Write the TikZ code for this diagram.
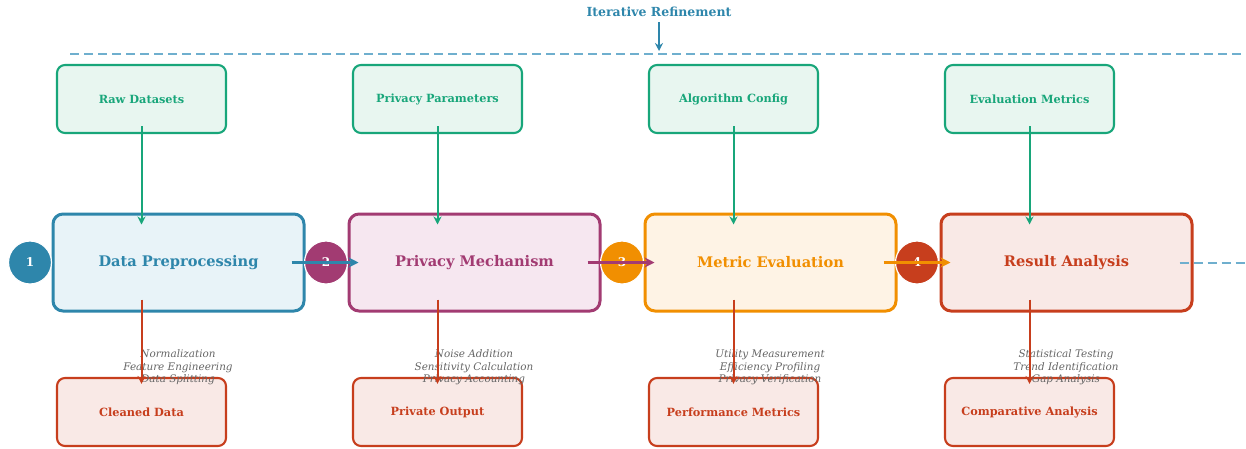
\documentclass[tikz,border=0pt]{standalone}
\usepackage{fontspec}
\setmainfont{DejaVu Serif}
\usetikzlibrary{arrows.meta}
\definecolor{cblue}{HTML}{2E86AB}
\definecolor{fblue}{HTML}{E8F3F8}
\definecolor{cpurp}{HTML}{A23B72}
\definecolor{fpurp}{HTML}{F6E7F0}
\definecolor{corng}{HTML}{F18F01}
\definecolor{forng}{HTML}{FEF3E5}
\definecolor{cred}{HTML}{C73E1D}
\definecolor{fred}{HTML}{F9E9E6}
\definecolor{cgrn}{HTML}{18A67A}
\definecolor{fgrn}{HTML}{E8F6F0}
\definecolor{cdash}{HTML}{6FAFCE}
\definecolor{cgray}{HTML}{666666}
\tikzset{
  mainbox/.style={draw, line width=3pt, rounded corners=10pt, minimum width=251pt, minimum height=97pt, font=\fontsize{14.6}{16}\selectfont\bfseries, inner sep=0pt},
  inbox/.style={draw=cgrn, fill=fgrn, text=cgrn, line width=2.1pt, rounded corners=8pt, minimum width=169pt, minimum height=68pt, font=\fontsize{11.3}{13}\selectfont\bfseries, inner sep=0pt},
  outbox/.style={draw=cred, fill=fred, text=cred, line width=2.1pt, rounded corners=8pt, minimum width=169pt, minimum height=68pt, font=\fontsize{11.3}{13}\selectfont\bfseries, inner sep=0pt},
  numc/.style={circle, draw=white, line width=1.2pt, minimum size=43pt, inner sep=0pt, text=white, font=\fontsize{12}{14}\selectfont\bfseries},
  note/.style={align=center, text=cgray, font=\fontsize{10.4}{12.5}\selectfont\itshape},
  thinarr/.style={line width=2pt, -{Stealth[length=8pt,width=8pt]}},
  fatarr/.style={line width=2.8pt, -{Stealth[length=10pt,width=10pt]}},
  dashln/.style={cdash, line width=2pt, dash pattern=on 9pt off 5pt}
}
\begin{document}
\begin{tikzpicture}[x=1pt, y=-1pt]
\useasboundingbox (0,0) rectangle (1246,448);
% title
\node[text=cblue, font=\fontsize{12.5}{14}\selectfont\bfseries] (title) at (659,12) {Iterative Refinement};
\coordinate (dl) at (70,54);
\coordinate (dr) at (1246,54);
\coordinate (dt) at (659,51);
\draw[dashln] (dl) -- (dr);
\draw[cblue, line width=2pt, -{Stealth[length=8pt,width=8pt]}] (title.south) ++(0,2) -- (dt);
% input boxes
\node[inbox] (in1) at (141.5,99) {Raw Datasets};
\node[inbox] (in2) at (437.5,99) {Privacy Parameters};
\node[inbox] (in3) at (733.5,99) {Algorithm Config};
\node[inbox] (in4) at (1029.5,99) {Evaluation Metrics};
% main boxes
\node[mainbox, draw=cblue, fill=fblue, text=cblue] (m1) at (178.5,262.5) {Data Preprocessing};
\node[mainbox, draw=cpurp, fill=fpurp, text=cpurp] (m2) at (474.5,262.5) {Privacy Mechanism};
\node[mainbox, draw=corng, fill=forng, text=corng] (m3) at (770.5,262.5) {Metric Evaluation};
\node[mainbox, draw=cred, fill=fred, text=cred] (m4) at (1066.5,262.5) {Result Analysis};
% output boxes
\node[outbox] (o1) at (141.5,412) {Cleaned Data};
\node[outbox] (o2) at (437.5,412) {Private Output};
\node[outbox] (o3) at (733.5,412) {Performance Metrics};
\node[outbox] (o4) at (1029.5,412) {Comparative Analysis};
% notes
\node[note] (n1) at (178,367.5) {Normalization\\Feature Engineering\\Data Splitting};
\node[note] (n2) at (474,367.5) {Noise Addition\\Sensitivity Calculation\\Privacy Accounting};
\node[note] (n3) at (770,367.5) {Utility Measurement\\Efficiency Profiling\\Privacy Verification};
\node[note] (n4) at (1066,367.5) {Statistical Testing\\Trend Identification\\Gap Analysis};
% circles
\node[numc, fill=cblue] (c1) at (30,262.5) {1};
\node[numc, fill=cpurp] (c2) at (326,262.5) {2};
\node[numc, fill=corng] (c3) at (622,262.5) {3};
\node[numc, fill=cred] (c4) at (917,262.5) {4};
% vertical arrows
\foreach \i in {1,2,3,4} {
  \draw[thinarr, cgrn] ([yshift=8pt]in\i.south) -- ([yshift=-12pt]in\i.south |- m\i.north);
  \draw[thinarr, cred] ([yshift=13pt]o\i.north |- m\i.south) -- ([yshift=-7pt]o\i.north);
}
% flow arrows
\draw[fatarr, cblue] ([xshift=-14pt]m1.east) -- ([xshift=11pt]m2.west);
\draw[fatarr, cpurp] ([xshift=-14pt]m2.east) -- ([xshift=11pt]m3.west);
\draw[fatarr, corng] ([xshift=-14pt]m3.east) -- ([xshift=11pt]m4.west);
\coordinate (rr) at (1246,262.5);
\draw[dashln] ([xshift=-14pt]m4.east) -- (rr);
\end{tikzpicture}
\end{document}
